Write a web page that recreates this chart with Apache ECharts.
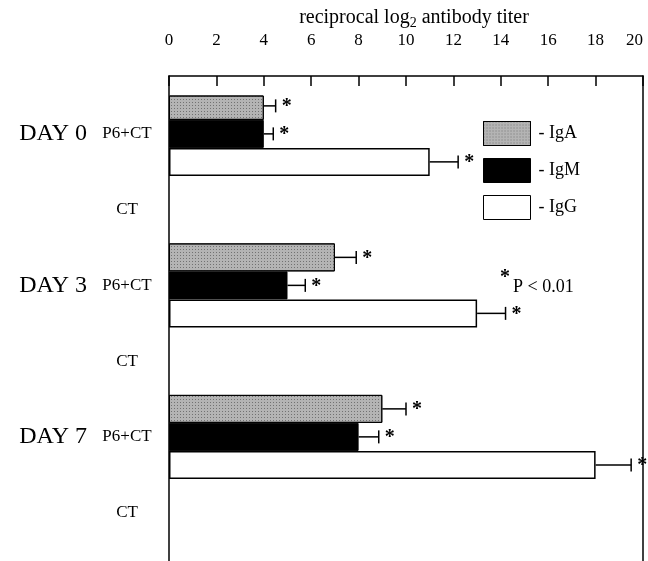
<!DOCTYPE html>
<html>
<head>
<meta charset="utf-8">
<script src="https://cdn.jsdelivr.net/npm/echarts@6/dist/echarts.min.js"></script>
<style>
html,body{margin:0;padding:0;background:#fff;}
#chart{width:648px;height:561px;}
</style>
</head>
<body>
<div id="chart"></div>
<script>
// ---- data ----
const categories = ['DAY 0|P6+CT', 'DAY 0|CT', 'DAY 3|P6+CT', 'DAY 3|CT', 'DAY 7|P6+CT', 'DAY 7|CT'];
const xTicks = [0, 2, 4, 6, 8, 10, 12, 14, 16, 18, 20];
const igA    = [4, null, 7, null, 9, null];
const igAErr = [4.5, null, 7.9, null, 10.0, null];
const igM    = [4, null, 5, null, 8, null];
const igMErr = [4.4, null, 5.75, null, 8.85, null];
const igG    = [11, null, 13, null, 18, null];
const igGErr = [12.2, null, 14.2, null, 19.5, null];
const seriesNames = ['IgA', 'IgM', 'IgG'];
const axisTitle = 'reciprocal log{s|2} antibody titer';

const FONT = '"Liberation Serif", "Times New Roman", serif';
const BAR_W = 28;

const chart = echarts.init(document.getElementById('chart'), null, {renderer: 'canvas'});

function errData(vals, errs) {
  const out = [];
  vals.forEach((v, i) => { if (v != null) out.push([v, i, errs[i]]); });
  return out;
}

function errSeries(name, vals, errs, k) {
  return {
    type: 'custom',
    name: name + ' err',
    xAxisIndex: 1, yAxisIndex: 1,
    data: errData(vals, errs),
    encode: {x: 0, y: 1},
    z: 5,
    renderItem: function (params, api) {
      const v = api.value(0), c = api.value(1), e = api.value(2);
      const p0 = api.coord([v, c]);
      const p1 = api.coord([e, c]);
      const y = p0[1] + (k - 1) * BAR_W;
      const st = {stroke: '#000', lineWidth: 1.5};
      return {
        type: 'group',
        children: [
          {type: 'line', shape: {x1: p0[0], y1: y, x2: p1[0], y2: y}, style: st},
          {type: 'line', shape: {x1: p1[0], y1: y - 6.5, x2: p1[0], y2: y + 6.5}, style: st},
          {type: 'text', style: {x: p1[0] + 6, y: y + 1, text: '*', fill: '#000',
            font: 'bold 20px ' + FONT, textAlign: 'left', textVerticalAlign: 'middle'}}
        ]
      };
    }
  };
}

const frameAxis = {
  type: 'value', min: 0, max: 1, gridIndex: 0,
  axisLine: {show: true, lineStyle: {color: '#000', width: 1.5}},
  axisTick: {show: false}, axisLabel: {show: false}, splitLine: {show: false}
};

const option = {
  animation: false,
  backgroundColor: '#fff',
  grid: [
    {left: 169, right: 5, top: 76, bottom: -20, outerBoundsMode: 'none', containLabel: false},
    {left: 169, right: 5, top: 96, bottom: 10.5, outerBoundsMode: 'none', containLabel: false}
  ],
  xAxis: [
    {
      gridIndex: 0, type: 'value', position: 'top', min: xTicks[0], max: xTicks[xTicks.length - 1], interval: 2,
      axisLine: {show: true, onZero: false, lineStyle: {color: '#000', width: 1.5}},
      axisTick: {show: true, inside: true, length: 10, lineStyle: {color: '#000', width: 1.5}},
      axisLabel: {margin: 27, fontFamily: FONT, fontSize: 17, color: '#000', alignMaxLabel: 'right'},
      splitLine: {show: false}
    },
    {gridIndex: 1, type: 'value', min: xTicks[0], max: xTicks[xTicks.length - 1], show: false, splitLine: {show: false}}
  ],
  yAxis: [
    Object.assign({position: 'left'}, frameAxis),
    {
      gridIndex: 1, type: 'category', data: categories, inverse: true,
      axisLine: {show: false}, axisTick: {show: false}, splitLine: {show: false},
      axisLabel: {
        margin: 14,
        formatter: function (val) {
          const parts = val.split('|');
          if (parts[1] === 'P6+CT') return '{day|' + parts[0] + '}{grp|' + parts[1] + '}';
          return '{grp|' + parts[1] + '}';
        },
        rich: {
          day: {fontFamily: FONT, fontSize: 24, color: '#000', padding: [0, 12, 0, 0]},
          grp: {fontFamily: FONT, fontSize: 17, color: '#000', width: 56, align: 'center'}
        }
      }
    },
    Object.assign({position: 'right'}, frameAxis)
  ],
  legend: {
    data: seriesNames,
    orient: 'vertical', left: 483, top: 121,
    itemWidth: 47, itemHeight: 24, itemGap: 12, padding: 0,
    icon: 'rect',
    formatter: function (n) { return '- ' + n; },
    textStyle: {fontFamily: FONT, fontSize: 18, color: '#000', padding: [0, 0, 0, 3]},
    itemStyle: {borderColor: '#000', borderWidth: 1}
  },
  series: [
    {
      type: 'bar', name: seriesNames[0], xAxisIndex: 1, yAxisIndex: 1, data: igA,
      barWidth: BAR_W, barGap: '0%',
      itemStyle: {color: '#b4b4b4', borderColor: '#000', borderWidth: 1,
        decal: {symbol: 'rect', symbolSize: 1, dashArrayX: [1, 2], dashArrayY: [1, 2], color: 'rgba(60,60,60,0.55)', rotation: 0}}
    },
    {
      type: 'bar', name: seriesNames[1], xAxisIndex: 1, yAxisIndex: 1, data: igM,
      barWidth: BAR_W, barGap: '0%',
      itemStyle: {color: '#000', borderColor: '#000', borderWidth: 1}
    },
    {
      type: 'bar', name: seriesNames[2], xAxisIndex: 1, yAxisIndex: 1, data: igG,
      barWidth: BAR_W, barGap: '0%',
      itemStyle: {color: '#fff', borderColor: '#000', borderWidth: 1.5}
    },
    errSeries('IgA', igA, igAErr, 0),
    errSeries('IgM', igM, igMErr, 1),
    errSeries('IgG', igG, igGErr, 2)
  ],
  graphic: [
    {type: 'text', x: 414, y: 18, style: {text: axisTitle, fontFamily: FONT, fontSize: 20, fill: '#000',
      align: 'center', verticalAlign: 'middle',
      rich: {s: {fontFamily: FONT, fontSize: 14, fill: '#000', padding: [11, 0, 0, 0]}}}},
    {type: 'text', left: 500, top: 268, style: {text: '*', font: 'bold 20px ' + FONT, fill: '#000'}},
    {type: 'text', left: 513, top: 278, style: {text: 'P < 0.01', font: '18px ' + FONT, fill: '#000'}}
  ]
};

chart.setOption(option);
</script>
</body>
</html>
